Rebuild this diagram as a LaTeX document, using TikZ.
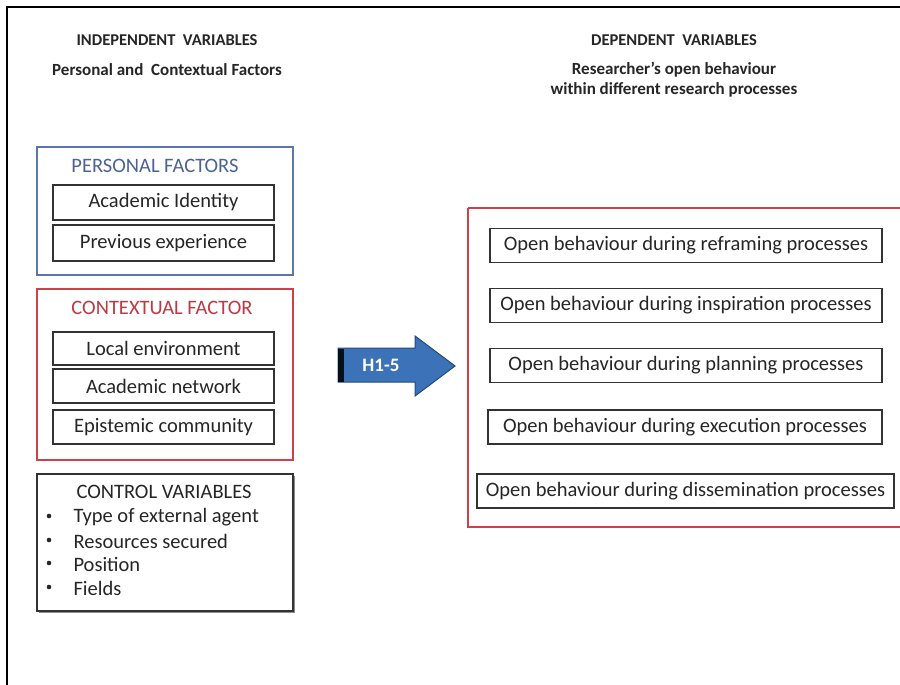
\documentclass[tikz,border=0pt]{standalone}
\usepackage{fontspec}
\setmainfont{Carlito}
\begin{document}
\begin{tikzpicture}[x=1pt,y=-1pt,
  txt/.style={font=\fontsize{20.5}{22}\selectfont,text=black!85},
  ibox/.style={txt,draw=black!80,line width=1.6pt,fill=white,inner sep=0pt},
  rbox/.style={ibox,minimum height=34pt},
  hdr/.style={font=\fontsize{16.5}{20}\selectfont\bfseries,text=black!85,align=center},
  sub/.style={font=\fontsize{17}{20}\selectfont\bfseries,text=black!85,align=center},
  grp/.style={line width=1.4pt}]
\useasboundingbox (0,0) rectangle (900,685);
\fill[white] (0,0) rectangle (900,685);
% frame
\draw[line width=1.5pt] (7,685) -- (7,7) -- (900,7);
% headers
\node[hdr] (ivh) at (167,40) {INDEPENDENT\ \ VARIABLES};
\node[sub] (ivs) at (167,70) {Personal and\ \ Contextual Factors};
\node[hdr] (dvh) at (674,40) {DEPENDENT\ \ VARIABLES};
\node[sub] (dvs) at (674,80) {Researcher's open behaviour\\ within different research processes};
% personal
\definecolor{pblue}{HTML}{5B76AC}
\draw[grp,draw=pblue] (37,147) rectangle (293,275);
\node[txt,text=pblue!85!black] (pf) at (155,166) {PERSONAL FACTORS};
\node[ibox,minimum width=221pt,minimum height=35pt] (ai) at (163.5,202.5) {Academic Identity};
\node[ibox,minimum width=221pt,minimum height=36pt] (pe) at (163.5,243) {Previous experience};
% contextual
\definecolor{cred}{HTML}{D0404A}
\draw[grp,draw=cred] (37,289) rectangle (293,460);
\node[txt,text=cred!90!black] (cf) at (162,308) {CONTEXTUAL FACTOR};
\node[ibox,minimum width=221pt,minimum height=33pt] (le) at (163.5,348.5) {Local environment};
\node[ibox,minimum width=221pt,minimum height=34pt] (an) at (163.5,386) {Academic network};
\node[ibox,minimum width=221pt,minimum height=34pt] (ec) at (163.5,427) {Epistemic community};
% control
\fill[black!45] (39,476) rectangle (295,613);
\draw[line width=1.5pt,draw=black!80,fill=white] (37,474) rectangle (293,611);
\node[txt] (cv) at (164,492) {CONTROL VARIABLES};
\foreach \t/\yy in {Type of external agent/517,Resources secured/541,Position/564,Fields/588}{
  \fill[black!85] (49,\yy-1) circle (2.3pt);
  \node[txt,anchor=west] at (70,\yy) {\t};
}
% arrow
\definecolor{ablue}{HTML}{3C72B8}
\definecolor{adark}{HTML}{244A7A}
\draw[fill=ablue,draw=adark,line width=1pt,line join=miter]
  (338,348) -- (415,348) -- (415,336) -- (455,366) -- (415,396) -- (415,382) -- (338,382) -- cycle;
\fill[black!80!adark] (338,348.5) rectangle (344,381.5);
\node[font=\fontsize{19}{20}\selectfont\bfseries,text=white] (h) at (381,365) {H1-5};
% right group
\draw[grp,draw=cred] (468,208) -- (902,208) (468,208) -- (468,527) -- (902,527);
\node[rbox,minimum width=392pt] (r1) at (686,245.5) {Open behaviour during reframing processes};
\node[rbox,minimum width=392pt] (r2) at (686,305.5) {Open behaviour during inspiration processes};
\node[rbox,minimum width=392pt] (r3) at (686,365.5) {Open behaviour during planning processes};
\node[rbox,minimum width=394pt] (r4) at (685,427) {Open behaviour during execution processes};
\node[rbox,minimum width=417pt] (r5) at (685.5,491) {Open behaviour during dissemination processes};
\end{tikzpicture}
\end{document}
